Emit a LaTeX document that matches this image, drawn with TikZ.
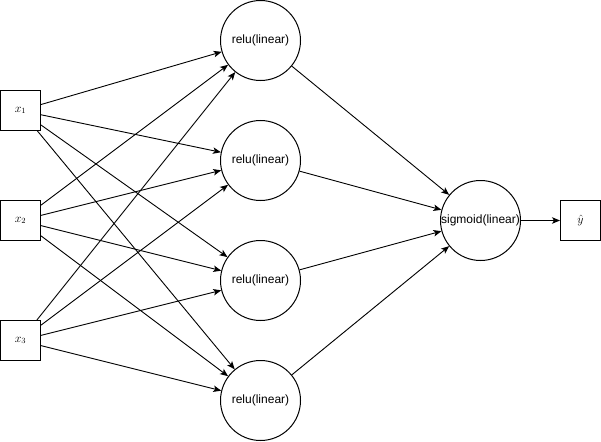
\documentclass[tikz,border=0pt]{standalone}
\usepackage{fontspec}
\setmainfont{Liberation Sans}
\usetikzlibrary{arrows.meta}
\begin{document}
\begin{tikzpicture}[x=1pt,y=-1pt,
  inbox/.style={draw,line width=1pt,minimum size=40pt,inner sep=0pt,font=\fontsize{12}{14}\selectfont},
  neuron/.style={draw,circle,line width=1pt,minimum size=80pt,inner sep=0pt},
  conn/.style={line width=0.9pt,-{Stealth[length=8pt,width=6.5pt,inset=2pt]}},
  lab/.style={font=\fontsize{12}{14}\selectfont}]
\useasboundingbox[fill=white] (0,0) rectangle (601,441);
\node[inbox] (x1) at (20.5,110.5) {$x_1$};
\node[inbox] (x2) at (20.5,220.5) {$x_2$};
\node[inbox] (x3) at (20.5,340.5) {$x_3$};
\node[neuron] (h1) at (260.5,40.5) {};
\node[neuron] (h2) at (260.5,160.5) {};
\node[neuron] (h3) at (260.5,280.5) {};
\node[neuron] (h4) at (260.5,400.5) {};
\node[lab] (t1) at (h1.center) {relu(linear)};
\node[lab] (t2) at (h2.center) {relu(linear)};
\node[lab] (t3) at (h3.center) {relu(linear)};
\node[lab] (t4) at (h4.center) {relu(linear)};
\node[neuron] (s) at (480.5,220.5) {};
\node[lab] (ts) at (s.center) {sigmoid(linear)};
\node[inbox] (y) at (580.5,220.5) {$\hat{y}$};
\foreach \i in {x1,x2,x3}{
  \foreach \j in {h1,h2,h3,h4}{
    \draw[conn] (\i) -- (\j);
  }
}
\foreach \j in {h1,h2,h3,h4}{
  \draw[conn] (\j) -- (s);
}
\draw[conn] (s) -- (y);
\end{tikzpicture}
\end{document}
